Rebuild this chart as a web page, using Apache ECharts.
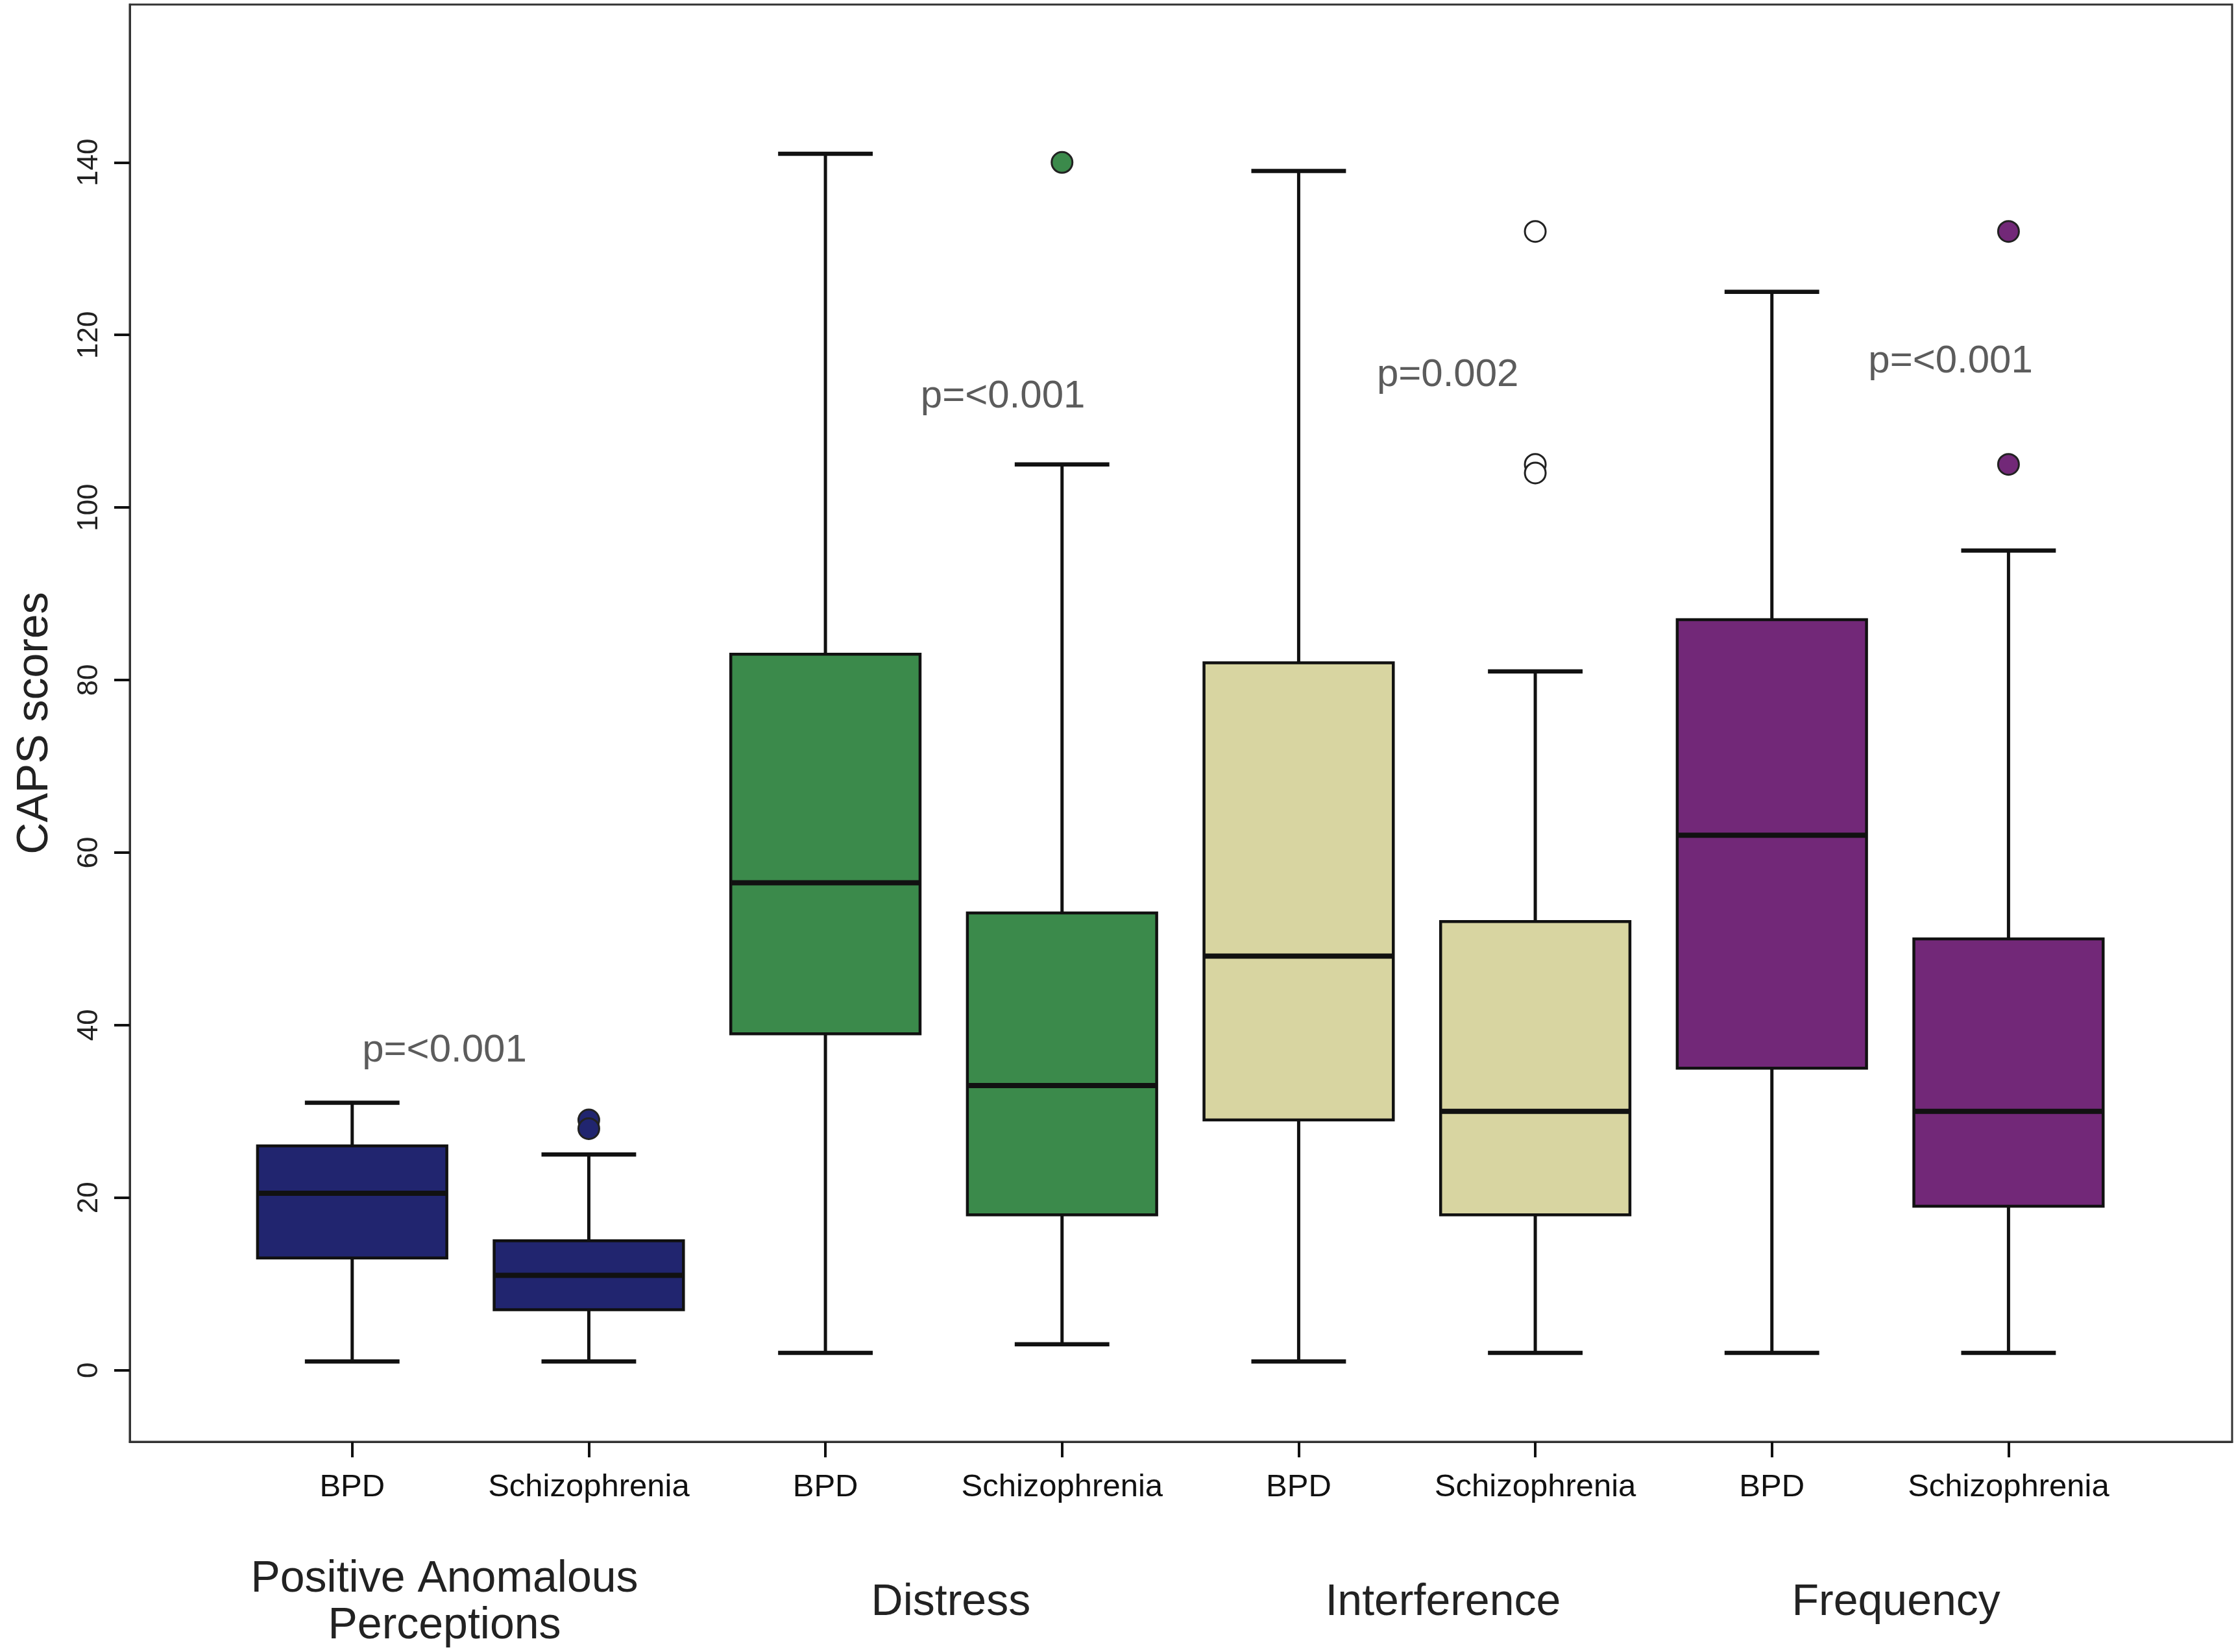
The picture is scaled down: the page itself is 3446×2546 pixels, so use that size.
<!DOCTYPE html>
<html>
<head>
<meta charset="utf-8">
<script src="https://cdn.jsdelivr.net/npm/echarts@6/dist/echarts.min.js"></script>
<style>
  html, body { margin: 0; padding: 0; background: #fff; }
  #main { width: 3446px; height: 2546px; }
</style>
</head>
<body>
<div id="main"></div>
<script>
// box positions on the x axis and their tick labels
var positions = [1, 2, 3, 4, 5, 6, 7, 8];
var tickLabels = ['BPD', 'Schizophrenia', 'BPD', 'Schizophrenia', 'BPD', 'Schizophrenia', 'BPD', 'Schizophrenia'];

// five-number summaries
var mins    = [1,    1,  2,    3,  1,  2,  2,  2];
var q1s     = [13,   7,  39,   18, 29, 18, 35, 19];
var medians = [20.5, 11, 56.5, 33, 48, 30, 62, 30];
var q3s     = [26,   15, 83,   53, 82, 52, 87, 50];
var maxs    = [31,   25, 141,  105, 139, 81, 125, 95];

// outliers (position, value)
var outlierPos  = [2,  2,  4,   6,   6,   6,   8,   8];
var outlierVals = [29, 28, 140, 132, 105, 104, 132, 105];

// measure names under the tick labels
var measures   = ['Positive Anomalous\nPerceptions', 'Distress', 'Interference', 'Frequency'];
var measurePos = [1.39, 3.53, 5.61, 7.525];

// p-value annotations
var pLabels = ['p=<0.001', 'p=<0.001', 'p=0.002', 'p=<0.001'];
var pPos    = [1.39, 3.75, 5.63, 7.755];
var pVals   = [37, 112.8, 115.3, 116.9];

var yTicks = [0, 20, 40, 60, 80, 100, 120, 140];

// styling
var groupColors = ['#21256f', '#3b8a4b', '#d8d5a1', '#722878'];
var BOX_W = 0.80;
var CAP_W = 0.40;

var boxData = [];
for (var i = 0; i < positions.length; i++) {
    boxData.push([positions[i], mins[i], q1s[i], medians[i], q3s[i], maxs[i]]);
}
var outlierData = [];
for (var i = 0; i < outlierPos.length; i++) {
    outlierData.push([outlierPos[i], outlierVals[i]]);
}
var pData = [];
for (var i = 0; i < pLabels.length; i++) {
    pData.push([pPos[i], pVals[i]]);
}

function findIndex(arr, v) {
    for (var k = 0; k < arr.length; k++) {
        if (Math.abs(arr[k] - v) < 1e-6) return k;
    }
    return -1;
}

// box + whiskers with short caps (SPSS style)
function renderBox(params, api) {
    var x = api.value(0);
    var pLo = api.coord([x, api.value(1)]);
    var pQ1 = api.coord([x, api.value(2)]);
    var pMd = api.coord([x, api.value(3)]);
    var pQ3 = api.coord([x, api.value(4)]);
    var pHi = api.coord([x, api.value(5)]);
    var half = api.size([BOX_W, 0])[0] / 2;
    var capHalf = api.size([CAP_W, 0])[0] / 2;
    var cx = pMd[0];
    var fill = groupColors[Math.floor(params.dataIndex / 2)];
    var stem = { stroke: '#111', lineWidth: 5 };
    var cap = { stroke: '#111', lineWidth: 6.5 };
    return {
        type: 'group',
        children: [
            { type: 'line', shape: { x1: cx, y1: pLo[1], x2: cx, y2: pQ1[1] }, style: stem },
            { type: 'line', shape: { x1: cx, y1: pQ3[1], x2: cx, y2: pHi[1] }, style: stem },
            { type: 'line', shape: { x1: cx - capHalf, y1: pLo[1], x2: cx + capHalf, y2: pLo[1] }, style: cap },
            { type: 'line', shape: { x1: cx - capHalf, y1: pHi[1], x2: cx + capHalf, y2: pHi[1] }, style: cap },
            { type: 'rect', shape: { x: cx - half, y: pQ3[1], width: half * 2, height: pQ1[1] - pQ3[1] },
              style: { fill: fill, stroke: '#111', lineWidth: 4.5 } },
            { type: 'line', shape: { x1: cx - half, y1: pMd[1], x2: cx + half, y2: pMd[1] },
              style: { stroke: '#111', lineWidth: 8 } }
        ]
    };
}

var myChart = echarts.init(document.getElementById('main'));

var option = {
    animation: false,
    backgroundColor: '#fff',
    textStyle: { fontFamily: '"Liberation Sans", Arial, sans-serif' },
    grid: {
        left: 200, right: 6, top: 7, bottom: 324,
        show: true, borderColor: '#333', borderWidth: 3
    },
    xAxis: [
        {
            type: 'value', min: 0.06, max: 8.945,
            axisLine: { show: true, onZero: false, lineStyle: { color: '#333', width: 3 } },
            axisTick: { show: true, length: 24, lineStyle: { color: '#111', width: 4 }, customValues: positions },
            axisLabel: {
                customValues: positions,
                fontSize: 49, color: '#111', margin: 46,
                formatter: function (v) { return tickLabels[findIndex(positions, v)]; }
            },
            splitLine: { show: false }
        },
        {
            type: 'value', min: 0.06, max: 8.945, position: 'bottom',
            axisLine: { show: false }, axisTick: { show: false },
            axisLabel: {
                customValues: measurePos,
                fontSize: 68, color: '#222', margin: 248,
                verticalAlign: 'middle', lineHeight: 72, align: 'center',
                formatter: function (v) { return measures[findIndex(measurePos, v)]; }
            },
            splitLine: { show: false }
        }
    ],
    yAxis: {
        type: 'value', min: -8.3, max: 158.3,
        name: 'CAPS scores', nameLocation: 'middle', nameGap: 112, nameRotate: 90,
        nameTextStyle: { fontSize: 68, color: '#222' },
        axisLine: { show: true, onZero: false, lineStyle: { color: '#333', width: 3 } },
        axisTick: { show: true, length: 24, lineStyle: { color: '#111', width: 4 }, customValues: yTicks },
        axisLabel: { customValues: yTicks, rotate: 90, fontSize: 44, color: '#222', margin: 40 },
        splitLine: { show: false }
    },
    series: [
        {
            type: 'custom',
            renderItem: renderBox,
            encode: { x: 0, y: [1, 2, 3, 4, 5] },
            data: boxData,
            z: 2
        },
        {
            type: 'scatter',
            data: outlierData,
            symbol: 'circle',
            symbolSize: 32,
            itemStyle: {
                opacity: 1,
                color: function (p) {
                    var g = Math.floor((p.data[0] - 1) / 2);
                    return g === 2 ? '#fff' : groupColors[g];
                },
                borderColor: '#222',
                borderWidth: 3
            },
            z: 3
        },
        {
            type: 'scatter',
            data: pData,
            symbolSize: 0,
            label: {
                show: true, position: 'inside',
                fontSize: 60, color: '#333',
                formatter: function (p) { return pLabels[p.dataIndex]; }
            },
            z: 4
        }
    ]
};

myChart.setOption(option);
</script>
</body>
</html>
